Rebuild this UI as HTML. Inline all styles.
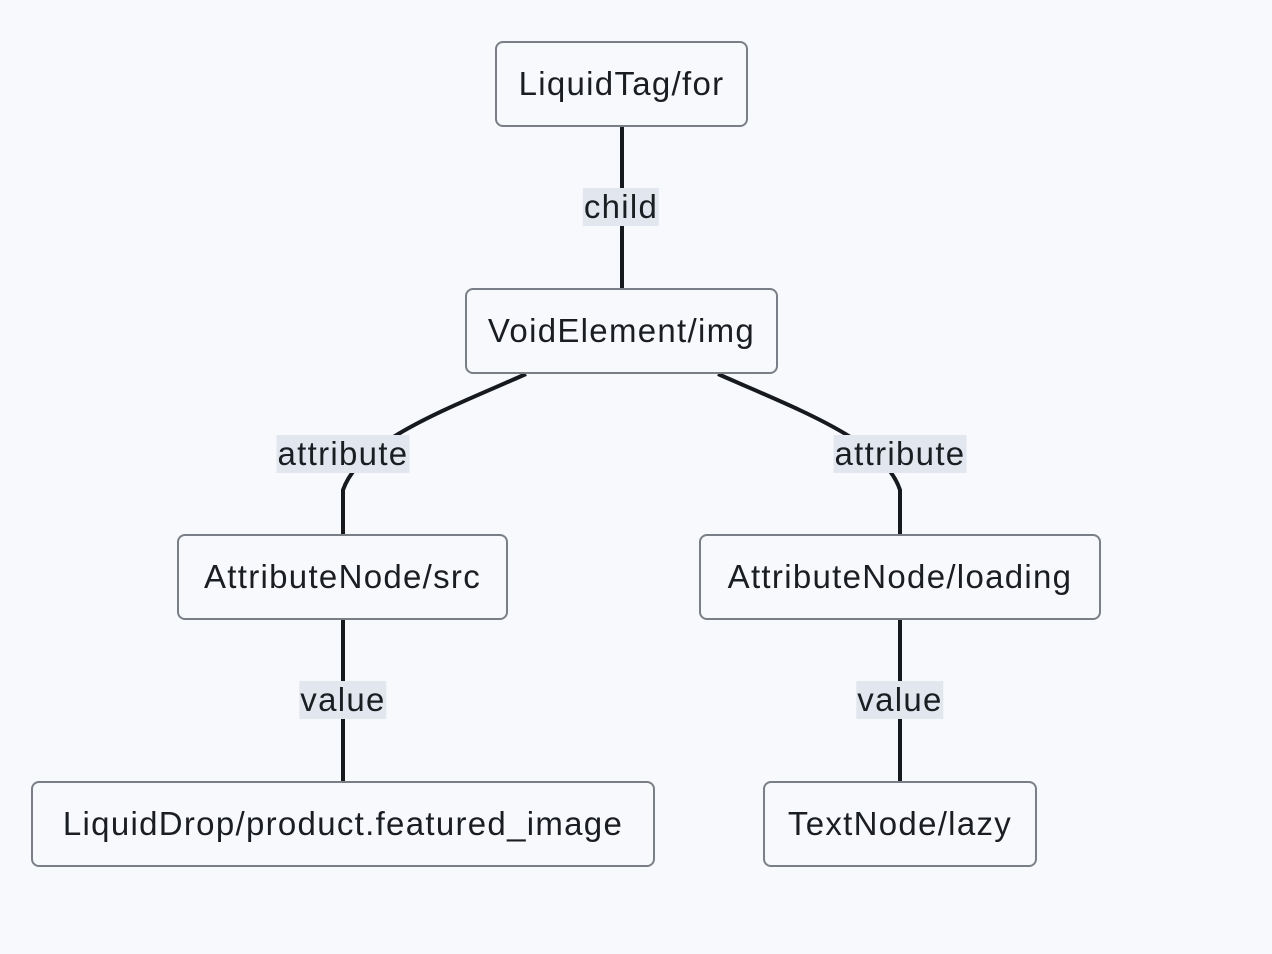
<!DOCTYPE html>
<html><head><meta charset="utf-8"><style>
html,body{margin:0;padding:0;background:#f8f9fc;}
body{width:1272px;height:954px;position:relative;overflow:hidden;font-family:"Liberation Sans",sans-serif;}
.n{position:absolute;box-sizing:border-box;border:2px solid #7a7f87;border-radius:8px;background:#f8f9fc;display:flex;align-items:center;justify-content:center;font-size:33px;color:#1a1d21;letter-spacing:1.3px;white-space:nowrap;}
.l{position:absolute;background:#e2e7ef;font-size:33px;color:#1a1d21;line-height:38px;padding:0 1px;letter-spacing:1.3px;transform:translateX(-50%);white-space:nowrap;}
</style></head><body>
<svg width="1272" height="954" style="position:absolute;left:0;top:0">
<g stroke="#16191d" stroke-width="4" fill="none">
<line x1="622" y1="126" x2="622" y2="289"/>
<path d="M526 374 C450 408 360 440 343 490 L343 535"/>
<path d="M718 374 C794 408 884 440 900 490 L900 535"/>
<line x1="343" y1="619" x2="343" y2="782"/>
<line x1="900" y1="619" x2="900" y2="782"/>
</g></svg>
<div class="n" style="left:495px;top:41px;width:253px;height:86px">LiquidTag/for</div>
<div class="n" style="left:465px;top:288px;width:313px;height:86px">VoidElement/img</div>
<div class="n" style="left:177px;top:534px;width:331px;height:86px">AttributeNode/src</div>
<div class="n" style="left:699px;top:534px;width:402px;height:86px">AttributeNode/loading</div>
<div class="n" style="left:31px;top:781px;width:624px;height:86px">LiquidDrop/product.featured_image</div>
<div class="n" style="left:763px;top:781px;width:274px;height:86px">TextNode/lazy</div>
<div class="l" style="left:621px;top:188px">child</div>
<div class="l" style="left:343px;top:435px">attribute</div>
<div class="l" style="left:900px;top:435px">attribute</div>
<div class="l" style="left:343px;top:681px">value</div>
<div class="l" style="left:900px;top:681px">value</div>
</body></html>
